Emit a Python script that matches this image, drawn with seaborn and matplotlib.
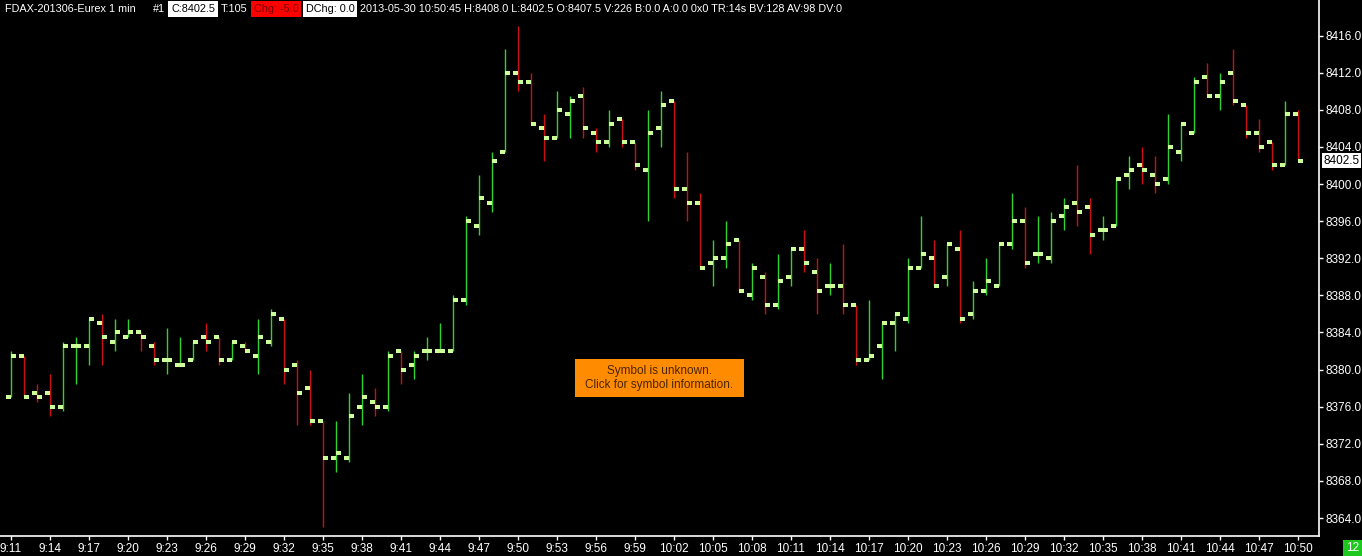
import seaborn as sns
import numpy as np
import matplotlib.pyplot as plt
import pandas as pd
from matplotlib.patches import Rectangle

# FDAX 1 min bars, 9:11 .. 10:50
start_time = "09:11"
n_bars = 100

opens = [8377.0, 8381.5, 8377.5, 8377.5, 8376.0, 8382.5, 8382.5, 8385.0, 8383.0, 8383.5,
         8384.0, 8382.5, 8381.0, 8380.5, 8381.0, 8383.5, 8383.5, 8381.0, 8382.5, 8381.5,
         8383.0, 8385.5, 8380.5, 8378.0, 8374.5, 8370.5, 8370.5, 8376.0, 8376.5, 8376.0,
         8382.0, 8380.5, 8382.0, 8382.0, 8382.0, 8387.5, 8395.5, 8398.0, 8403.5, 8412.0,
         8411.0, 8406.0, 8405.0, 8407.5, 8409.5, 8405.5, 8404.5, 8407.0, 8404.5, 8401.5,
         8406.0, 8409.0, 8399.5, 8398.0, 8391.5, 8392.0, 8394.0, 8388.0, 8390.0, 8387.0,
         8390.0, 8393.0, 8390.5, 8389.0, 8389.0, 8387.0, 8381.0, 8382.5, 8385.0, 8385.5,
         8391.0, 8392.0, 8390.0, 8393.0, 8386.0, 8388.5, 8389.0, 8393.5, 8396.0, 8392.5,
         8392.0, 8396.5, 8398.0, 8397.5, 8395.0, 8395.5, 8401.0, 8402.0, 8401.0, 8400.5,
         8403.5, 8405.5, 8411.5, 8409.5, 8412.0, 8408.5, 8405.5, 8404.5, 8402.0, 8407.5]
highs = [8382.0, 8381.5, 8378.5, 8379.5, 8383.0, 8383.5, 8385.5, 8386.0, 8385.5, 8385.5,
         8384.0, 8383.0, 8384.5, 8383.5, 8383.0, 8385.0, 8383.5, 8383.0, 8383.0, 8385.5,
         8386.5, 8385.5, 8381.0, 8380.0, 8374.5, 8374.5, 8377.5, 8379.5, 8378.0, 8382.0,
         8382.0, 8382.0, 8383.5, 8385.0, 8388.0, 8396.5, 8401.0, 8403.5, 8414.5, 8417.0,
         8412.0, 8407.5, 8410.0, 8409.5, 8410.5, 8406.0, 8408.0, 8407.0, 8404.5, 8408.0,
         8410.0, 8409.0, 8403.5, 8399.0, 8394.0, 8396.0, 8394.0, 8391.5, 8390.5, 8392.5,
         8393.0, 8395.0, 8392.0, 8391.5, 8393.5, 8387.0, 8387.5, 8385.0, 8386.0, 8392.0,
         8396.5, 8394.0, 8393.5, 8395.0, 8389.5, 8392.0, 8393.5, 8399.0, 8397.5, 8396.5,
         8397.0, 8398.5, 8402.0, 8398.5, 8396.5, 8400.5, 8403.0, 8404.0, 8403.0, 8407.5,
         8406.5, 8411.5, 8413.0, 8412.0, 8414.5, 8408.5, 8407.0, 8404.5, 8409.0, 8408.0]
lows = [8377.0, 8377.0, 8376.5, 8375.0, 8375.5, 8378.5, 8380.5, 8380.5, 8382.0, 8383.5,
        8382.0, 8380.5, 8379.5, 8380.5, 8381.0, 8382.0, 8380.5, 8381.0, 8382.0, 8379.5,
        8382.5, 8378.5, 8374.0, 8374.0, 8363.0, 8369.0, 8370.0, 8374.0, 8375.0, 8375.5,
        8378.5, 8379.0, 8381.0, 8382.0, 8382.0, 8387.0, 8394.5, 8397.0, 8403.5, 8410.0,
        8406.5, 8402.5, 8405.0, 8405.0, 8405.0, 8403.5, 8404.0, 8404.0, 8401.5, 8396.0,
        8404.0, 8398.5, 8396.0, 8391.0, 8389.0, 8391.0, 8388.5, 8387.5, 8386.0, 8386.5,
        8389.0, 8390.5, 8386.0, 8388.0, 8386.0, 8380.5, 8381.0, 8379.0, 8382.0, 8385.0,
        8391.0, 8389.0, 8389.0, 8385.0, 8385.5, 8388.0, 8389.0, 8393.0, 8391.0, 8391.5,
        8391.5, 8395.0, 8395.5, 8392.5, 8394.0, 8395.5, 8399.5, 8400.0, 8399.0, 8400.0,
        8402.5, 8405.5, 8409.5, 8408.0, 8408.5, 8405.0, 8403.5, 8401.5, 8402.0, 8402.5]
closes = [8381.5, 8377.0, 8377.0, 8376.0, 8382.5, 8382.5, 8385.5, 8383.5, 8384.0, 8384.0,
          8383.5, 8381.0, 8381.0, 8380.5, 8383.0, 8383.0, 8381.0, 8383.0, 8382.0, 8383.5,
          8386.0, 8380.0, 8377.5, 8374.5, 8370.5, 8371.0, 8375.0, 8377.0, 8376.0, 8381.5,
          8380.0, 8381.5, 8382.0, 8382.0, 8387.5, 8396.0, 8398.5, 8402.5, 8412.0, 8411.0,
          8406.5, 8405.0, 8408.0, 8409.0, 8406.0, 8404.5, 8406.5, 8404.5, 8402.0, 8405.5,
          8408.5, 8399.5, 8398.0, 8391.0, 8392.0, 8393.5, 8388.5, 8391.0, 8387.0, 8389.5,
          8393.0, 8391.5, 8388.5, 8389.0, 8387.0, 8381.0, 8381.5, 8385.0, 8386.0, 8391.0,
          8392.5, 8389.0, 8393.5, 8385.5, 8388.5, 8389.5, 8393.5, 8396.0, 8391.5, 8392.5,
          8396.0, 8397.5, 8397.0, 8394.5, 8395.0, 8400.5, 8401.5, 8401.5, 8400.0, 8404.0,
          8406.5, 8411.0, 8409.5, 8411.0, 8409.0, 8405.5, 8404.0, 8402.0, 8407.5, 8402.5]

y_ticks = [8364.0, 8368.0, 8372.0, 8376.0, 8380.0, 8384.0, 8388.0, 8392.0,
           8396.0, 8400.0, 8404.0, 8408.0, 8412.0, 8416.0]
last_price = 8402.5

# text, left pixel, background, text colour
header_parts = [
    ("FDAX-201306-Eurex 1 min", 5, None, "white"),
    ("#1", 153, None, "white"),
    ("C:8402.5", 171, "white", "black"),
    ("T:105", 221, None, "white"),
    ("Chg: -5.0", 254, "#ff0000", "#7a0000"),
    ("DChg: 0.0", 306, "white", "black"),
    ("2013-05-30 10:50:45 H:8408.0 L:8402.5 O:8407.5 V:226 B:0.0 A:0.0 0x0 TR:14s BV:128 AV:98 DV:0",
     360, None, "white"),
]

times = pd.date_range("2013-05-30 " + start_time, periods=n_bars, freq="1min")
labels = [f"{t.hour}:{t.minute:02d}" for t in times]

df = pd.DataFrame({"idx": np.arange(n_bars), "open": opens, "high": highs,
                   "low": lows, "close": closes})
df["up"] = df["close"] >= df["open"]

sns.set_theme(style="dark", rc={"axes.facecolor": "black", "figure.facecolor": "black"})
plt.rcParams["font.family"] = ["Liberation Sans", "DejaVu Sans"]

W, H = 1362, 556
fig = plt.figure(figsize=(W / 100, H / 100), dpi=100, facecolor="black")
ax = fig.add_axes([0, 20 / H, 1319 / W, 536 / H])
ax.set_facecolor("black")

green = "#2fd22f"
red = "#cc1010"
tick_col = "#ccff99"

# high-low lines
ax.vlines(df["idx"], df["low"], df["high"],
          colors=np.where(df["up"], green, red), linewidth=1.0, zorder=2)

# open tick on the left, close tick on the right
open_mark = [(-1, -0.3), (0, -0.3), (0, 0.3), (-1, 0.3)]
close_mark = [(0, -0.3), (1, -0.3), (1, 0.3), (0, 0.3)]
sns.scatterplot(data=df, x="idx", y="open", marker=open_mark, s=60,
                color=tick_col, linewidth=0, ax=ax, zorder=3)
sns.scatterplot(data=df, x="idx", y="close", marker=close_mark, s=60,
                color=tick_col, linewidth=0, ax=ax, zorder=3)

ax.set_xlim(-0.823, 100.64)
ax.set_ylim(8362.07, 8419.83)
ax.set_xlabel("")
ax.set_ylabel("")

ax.yaxis.tick_right()
ax.set_yticks(y_ticks)
ax.set_yticklabels([f"{v:.1f}" for v in y_ticks])
ax.set_xticks(df["idx"][::3])
ax.set_xticklabels(labels[::3])
ax.tick_params(colors="white", length=3, width=1, labelsize=8.5, pad=2,
               direction="out", bottom=True, right=True, left=False)
ax.grid(False)
for side in ["top", "left"]:
    ax.spines[side].set_visible(False)
for side in ["right", "bottom"]:
    ax.spines[side].set_color("white")
    ax.spines[side].set_linewidth(1.2)

# last price marker on the price scale
ax.annotate(f"{last_price:.1f}", xy=(1, last_price), xycoords=("axes fraction", "data"),
            xytext=(3, 0), textcoords="offset points", va="center", ha="left",
            fontsize=8.5, color="black",
            bbox=dict(boxstyle="square,pad=0.12", fc="white", ec="none"), zorder=6)

# header line
for txt, px, bg, fg in header_parts:
    kw = {}
    if bg is not None:
        kw["bbox"] = dict(boxstyle="square,pad=0.25", fc=bg, ec="none")
    fig.text(px / W, 1 - 9 / H, txt, color=fg, fontsize=7.8, ha="left", va="center", **kw)

# symbol message box
fig.patches.append(Rectangle((575 / W, 1 - 397 / H), 169 / W, 38 / H,
                             transform=fig.transFigure, facecolor="#ff8c00",
                             edgecolor="none", zorder=5))
fig.text(659.5 / W, 1 - 378 / H, "Symbol is unknown.\nClick for symbol information.",
         ha="center", va="center", color="#4a2400", fontsize=8.5, linespacing=1.25, zorder=6)

# green counter box bottom right
fig.patches.append(Rectangle((1343 / W, 0), 19 / W, 16 / H, transform=fig.transFigure,
                             facecolor="#1ec81e", edgecolor="none", zorder=5))
fig.text(1352.5 / W, 8 / H, "12", ha="center", va="center", color="white",
         fontsize=8.5, zorder=6)

fig.savefig("out.png", dpi=100, facecolor="black")
